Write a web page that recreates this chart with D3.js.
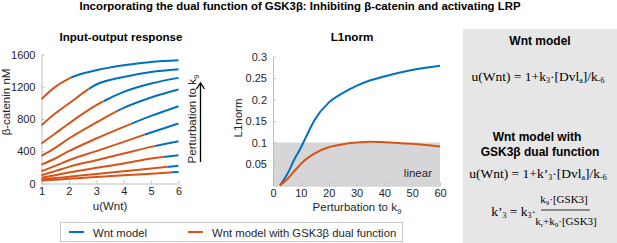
<!DOCTYPE html>
<html>
<head>
<meta charset="utf-8">
<script src="https://cdn.jsdelivr.net/npm/d3@7"></script>
<style>
  body { margin: 0; background: #fff; }
  svg { display: block; font-family: "Liberation Sans", Arial, sans-serif; }
  .serif { font-family: "Liberation Serif", "DejaVu Serif", serif; }
</style>
</head>
<body>
<script>
// input-output panel
const uVals = [1, 1.5, 2, 3, 4, 5, 6];
const betaCatenin = [
  [1046, 1198, 1302, 1405, 1467, 1508, 1529],
  [723, 868, 992, 1228, 1322, 1384, 1418],
  [496, 620, 744, 971, 1136, 1240, 1310],
  [343, 442, 558, 757, 938, 1067, 1166],
  [235, 310, 401, 558, 702, 838, 959],
  [152, 218, 289, 401, 516, 633, 744],
  [103, 153, 206, 289, 372, 454, 525],
  [70, 103, 136, 194, 248, 310, 351],
  [50, 67, 84, 118, 152, 186, 219],
  [37, 48, 58, 80, 101, 122, 144]
];
// u(Wnt) where each curve changes from orange to blue
const switchU = [2.06, 2.72, 3.27, 3.79, 4.3, 4.76, 5.13, 5.45, 5.61, 5.76];

// L1norm panel
const k9Vals = [2.5, 5, 8, 10, 12, 15, 20, 25, 30, 35, 40, 50, 60];
const l1Wnt = [0, 0.025, 0.065, 0.088, 0.115, 0.153, 0.193, 0.215, 0.232, 0.245, 0.254, 0.269, 0.279];
const l1Dual = [0, 0.014, 0.036, 0.05, 0.062, 0.075, 0.089, 0.096, 0.1, 0.102, 0.101, 0.097, 0.091];
const linearLimit = 0.1;

const xTicksIO = [1, 2, 3, 4, 5, 6];
const yTicksIO = [0, 400, 800, 1200, 1600];
const xTicksL1 = [0, 10, 20, 30, 40, 50, 60];
const yTicksL1 = [0.05, 0.1, 0.15, 0.2, 0.25, 0.3];

const blue = "#0072BD";
const orange = "#D95319";
const axisGray = "#bfbfbf";
const textGray = "#262626";

const width = 617, height = 243;
const svg = d3.select("body").append("svg").attr("width", width).attr("height", height);
svg.append("rect").attr("width", width).attr("height", height).attr("fill", "#fff");

svg.append("text")
  .attr("x", 300).attr("y", 10)
  .attr("text-anchor", "middle")
  .attr("font-weight", "bold")
  .attr("font-size", 11.4)
  .text("Incorporating the dual function of GSK3\u03b2: Inhibiting \u03b2-catenin and activating LRP");

function styleAxis(g) {
  g.attr("font-family", null).attr("font-size", 11);
  g.select(".domain").attr("stroke", axisGray);
  g.selectAll(".tick line").attr("stroke", axisGray);
  g.selectAll(".tick text").attr("fill", textGray);
}

// ---------- left panel ----------
const x1 = d3.scaleLinear().domain([1, 6]).range([41.5, 178.5]);
const y1 = d3.scaleLinear().domain([0, 1600]).range([183.5, 54.5]);

svg.append("text")
  .attr("x", 121).attr("y", 41)
  .attr("text-anchor", "middle").attr("font-weight", "bold").attr("font-size", 11.6)
  .text("Input-output response");

svg.append("g")
  .attr("transform", `translate(0,${y1.range()[0]})`)
  .call(d3.axisBottom(x1).tickValues(xTicksIO).tickFormat(d3.format("d"))
    .tickSizeInner(-3).tickSizeOuter(0).tickPadding(4))
  .call(styleAxis);
svg.append("g")
  .attr("transform", `translate(${x1.range()[0]},0)`)
  .call(d3.axisLeft(y1).tickValues(yTicksIO).tickFormat(d3.format("d"))
    .tickSizeInner(-3).tickSizeOuter(0).tickPadding(6))
  .call(styleAxis);

svg.append("text")
  .attr("transform", "translate(10,102) rotate(-90)")
  .attr("text-anchor", "middle").attr("font-size", 11.5).attr("fill", textGray)
  .text("\u03b2-catenin nM");
svg.append("text")
  .attr("x", 110).attr("y", 210)
  .attr("text-anchor", "middle").attr("font-size", 11.5).attr("fill", textGray)
  .text("u(Wnt)");

const ioLine = d3.line()
  .x(d => x1(d[0]))
  .y(d => y1(d[1]))
  .curve(d3.curveMonotoneX);

const defs = svg.append("defs");
betaCatenin.forEach((vals, i) => {
  const pts = uVals.map((u, j) => [u, vals[j]]);
  defs.append("clipPath").attr("id", "clipL" + i)
    .append("rect")
    .attr("x", 0).attr("y", 0)
    .attr("width", x1(switchU[i])).attr("height", height);
  defs.append("clipPath").attr("id", "clipR" + i)
    .append("rect")
    .attr("x", x1(switchU[i])).attr("y", 0)
    .attr("width", width).attr("height", height);
  svg.append("path")
    .attr("d", ioLine(pts))
    .attr("fill", "none").attr("stroke", blue).attr("stroke-width", 2)
    .attr("clip-path", `url(#clipR${i})`);
  svg.append("path")
    .attr("d", ioLine(pts))
    .attr("fill", "none").attr("stroke", orange).attr("stroke-width", 2)
    .attr("clip-path", `url(#clipL${i})`);
});

// perturbation arrow
const pt = svg.append("text")
  .attr("transform", "translate(196,119) rotate(-90)")
  .attr("text-anchor", "middle").attr("font-size", 11.5).attr("fill", textGray);
pt.append("tspan").text("Perturbation to k");
pt.append("tspan").attr("font-size", 8).attr("dy", 3).text("9");
svg.append("line")
  .attr("x1", 200.5).attr("x2", 200.5).attr("y1", 162).attr("y2", 84)
  .attr("stroke", "#000").attr("stroke-width", 1.3);
svg.append("path")
  .attr("d", "M196.5,89 L200.5,83 L204.5,89")
  .attr("fill", "none").attr("stroke", "#000").attr("stroke-width", 1.3);

// ---------- middle panel ----------
const x2 = d3.scaleLinear().domain([0, 60]).range([273, 440]);
const y2 = d3.scaleLinear().domain([0, 0.3]).range([185.5, 56.7]);

svg.append("text")
  .attr("x", 352).attr("y", 41)
  .attr("text-anchor", "middle").attr("font-weight", "bold").attr("font-size", 11.6)
  .text("L1norm");

svg.append("rect")
  .attr("x", x2(0)).attr("y", y2(linearLimit))
  .attr("width", x2(60) - x2(0)).attr("height", y2(0) - y2(linearLimit))
  .attr("fill", "#d6d6d8");
svg.append("text")
  .attr("x", 432).attr("y", 177)
  .attr("text-anchor", "end").attr("font-size", 11.5).attr("fill", textGray)
  .text("linear");

svg.append("g")
  .attr("transform", `translate(0,${y2.range()[0]})`)
  .call(d3.axisBottom(x2).tickValues(xTicksL1).tickFormat(d3.format("d"))
    .tickSizeInner(-3).tickSizeOuter(0).tickPadding(4))
  .call(styleAxis);
svg.append("g")
  .attr("transform", `translate(${x2.range()[0]},0)`)
  .call(d3.axisLeft(y2).tickValues(yTicksL1).tickFormat(d3.format("~g"))
    .tickSizeInner(-3).tickSizeOuter(0).tickPadding(6))
  .call(styleAxis);

svg.append("text")
  .attr("transform", "translate(242,118) rotate(-90)")
  .attr("text-anchor", "middle").attr("font-size", 11.5).attr("fill", textGray)
  .text("L1norm");
const xl2 = svg.append("text")
  .attr("x", 357).attr("y", 211)
  .attr("text-anchor", "middle").attr("font-size", 11.5).attr("fill", textGray);
xl2.append("tspan").text("Perturbation to k");
xl2.append("tspan").attr("font-size", 8).attr("dy", 3).text("9");

const l1Line = d3.line()
  .x((d, i) => x2(k9Vals[i]))
  .y(d => y2(d))
  .curve(d3.curveMonotoneX);
svg.append("path").attr("d", l1Line(l1Wnt))
  .attr("fill", "none").attr("stroke", blue).attr("stroke-width", 2);
svg.append("path").attr("d", l1Line(l1Dual))
  .attr("fill", "none").attr("stroke", orange).attr("stroke-width", 2);

// ---------- right panel ----------
svg.append("rect")
  .attr("x", 463).attr("y", 29).attr("width", width - 463).attr("height", height - 29)
  .attr("fill", "#e6e6e6");

const cx = 540;
svg.append("text").attr("x", cx).attr("y", 45)
  .attr("text-anchor", "middle").attr("font-weight", "bold").attr("font-size", 12)
  .text("Wnt model");

function formulaU(y, prime) {
  const t = svg.append("text").attr("class", "serif")
    .attr("x", 538).attr("y", y).attr("text-anchor", "middle").attr("font-size", 13.5);
  t.append("tspan").text("u(Wnt) = 1+k" + (prime ? "\u2019" : ""));
  t.append("tspan").attr("font-size", 8).attr("dy", 2).text("3");
  t.append("tspan").attr("dy", -2).text("\u00b7[Dvl");
  t.append("tspan").attr("font-size", 8).attr("dy", 2).text("a");
  t.append("tspan").attr("dy", -2).text("]/k");
  t.append("tspan").attr("font-size", 8).attr("dy", 2).text("-6");
}
formulaU(81, false);

svg.append("text").attr("x", cx - 3).attr("y", 141)
  .attr("text-anchor", "middle").attr("font-weight", "bold").attr("font-size", 12)
  .text("Wnt model with");
svg.append("text").attr("x", cx).attr("y", 156)
  .attr("text-anchor", "middle").attr("font-weight", "bold").attr("font-size", 12)
  .text("GSK3\u03b2 dual function");
formulaU(177.5, true);

const lhs = svg.append("text").attr("class", "serif")
  .attr("x", 536).attr("y", 216).attr("text-anchor", "end").attr("font-size", 13.5);
lhs.append("tspan").text("k\u2019");
lhs.append("tspan").attr("font-size", 8).attr("dy", 2).text("3");
lhs.append("tspan").attr("dy", -2).text(" = k");
lhs.append("tspan").attr("font-size", 8).attr("dy", 2).text("3");
lhs.append("tspan").attr("dy", -2).text("\u00b7 ");

const num = svg.append("text").attr("class", "serif")
  .attr("x", 564).attr("y", 203).attr("text-anchor", "middle").attr("font-size", 11);
num.append("tspan").text("k");
num.append("tspan").attr("font-size", 7).attr("dy", 2).text("9");
num.append("tspan").attr("dy", -2).text("\u00b7[GSK3]");
svg.append("line").attr("x1", 541).attr("x2", 590).attr("y1", 210).attr("y2", 210)
  .attr("stroke", "#000").attr("stroke-width", 0.8);
const den = svg.append("text").attr("class", "serif")
  .attr("x", 566).attr("y", 225).attr("text-anchor", "middle").attr("font-size", 11);
den.append("tspan").text("k");
den.append("tspan").attr("font-size", 7).attr("dy", 2).text("r");
den.append("tspan").attr("dy", -2).text("+k");
den.append("tspan").attr("font-size", 7).attr("dy", 2).text("9");
den.append("tspan").attr("dy", -2).text("\u00b7[GSK3]");

// ---------- legend ----------
const legendItems = [
  {label: "Wnt model", color: blue, x: 69},
  {label: "Wnt model with GSK3\u03b2 dual function", color: orange, x: 188}
];
svg.append("rect")
  .attr("x", 60.5).attr("y", 222.5).attr("width", 342).attr("height", 19)
  .attr("fill", "#fff").attr("stroke", "#c8c8c8");
legendItems.forEach(d => {
  svg.append("line")
    .attr("x1", d.x).attr("x2", d.x + 15).attr("y1", 232).attr("y2", 232)
    .attr("stroke", d.color).attr("stroke-width", 2);
  svg.append("text")
    .attr("x", d.x + 24).attr("y", 236.5).attr("font-size", 11.3).attr("fill", textGray)
    .text(d.label);
});
</script>
</body>
</html>
